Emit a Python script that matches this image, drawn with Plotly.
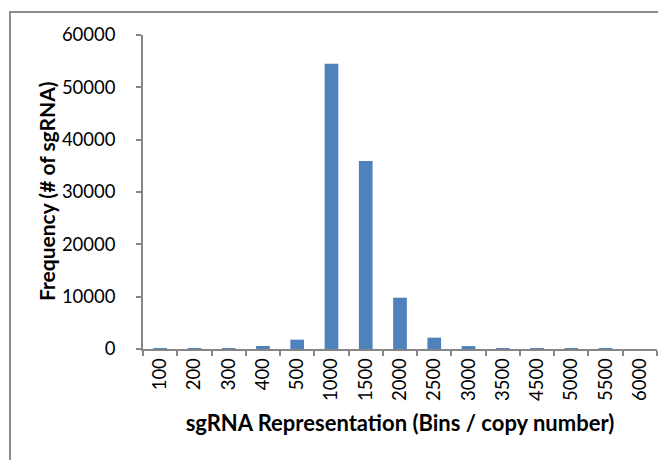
import plotly.graph_objects as go

categories = ["100", "200", "300", "400", "500", "1000", "1500", "2000", "2500",
              "3000", "3500", "4500", "5000", "5500", "6000"]
frequency = [150, 150, 150, 570, 1780, 54500, 35900, 9800, 2170,
             560, 150, 150, 150, 150, 0]
y_ticks = [0, 10000, 20000, 30000, 40000, 50000, 60000]

FONT = "Lato"
AXIS_GRAY = "#868686"

fig = go.Figure(go.Bar(
    x=categories, y=frequency,
    marker=dict(color="#4F81BD", line=dict(width=0)),
))

# page body has an 8px margin: lay out in figure coordinates shifted by 8px
OFF = 8
W, H = 666, 460
L, R, T, B = 143 - OFF, W - (657 - OFF), 35 - OFF, H - (349 - OFF)
pw, ph = W - L - R, H - T - B

def px_x(x):
    return (x - OFF - L) / pw

def px_y(y):
    return (H - B - (y - OFF)) / ph

fig.update_layout(
    width=W, height=H,
    margin=dict(l=L, r=R, t=T, b=B, pad=0),
    paper_bgcolor="white", plot_bgcolor="white",
    bargap=0.6,
    showlegend=False,
    font=dict(family=FONT, size=18.5, color="black"),
    xaxis=dict(
        type="category", range=[-0.5, 14.5],
        showline=True, linecolor=AXIS_GRAY, linewidth=1.5,
        ticks="outside", tickson="boundaries", ticklen=5, tickcolor=AXIS_GRAY, tickwidth=1.5,
        tickangle=-90, tickfont=dict(family=FONT, size=18.5),
        ticklabelstandoff=0,
        showgrid=False, zeroline=False,
        title=dict(text="<b>sgRNA Representation (Bins / copy number)</b>",
                   font=dict(family=FONT, size=22), standoff=16),
    ),
    yaxis=dict(
        range=[0, 60000], tickvals=y_ticks, ticktext=[str(v) for v in y_ticks],
        showline=True, linecolor=AXIS_GRAY, linewidth=1.5,
        ticks="outside", ticklen=5, tickcolor=AXIS_GRAY, tickwidth=1.5,
        tickfont=dict(family=FONT, size=18.5),
        ticklabelstandoff=17,
        showgrid=False, zeroline=False,
    ),
    annotations=[dict(
        text="<b>Frequency (# of sgRNA)</b>", textangle=-90,
        xref="paper", yref="paper", x=px_x(46), y=px_y(191),
        xanchor="center", yanchor="middle", showarrow=False,
        font=dict(family=FONT, size=21, color="black"),
    )],
    shapes=[dict(
        type="rect", xref="paper", yref="paper",
        x0=px_x(10), x1=px_x(720), y0=px_y(12), y1=px_y(520),
        line=dict(color="#8C8C8C", width=2), fillcolor="rgba(0,0,0,0)", layer="below",
    )],
)

fig.write_html("out.html")
